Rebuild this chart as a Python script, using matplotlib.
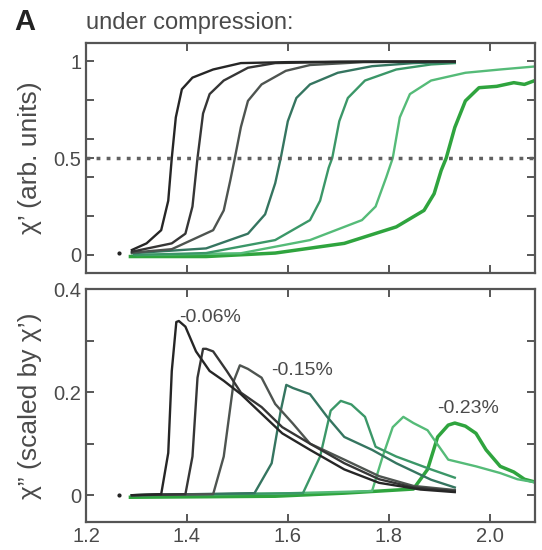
import numpy as np
import matplotlib
matplotlib.use("Agg")
import matplotlib.pyplot as plt
from matplotlib.ticker import MultipleLocator, FixedLocator

plt.rcParams['font.family'] = ['Liberation Sans', 'DejaVu Sans']

GRAY = '#4a4a4a'

# curve colours, darkest (smallest strain) to brightest green
colors = ['#262626', '#363636', '#4e5450', '#357560', '#3b9768', '#55bb78', '#2fa43e']
widths = [1.7, 1.7, 1.7, 1.7, 1.7, 1.7, 2.5]

# ---- top panel: chi' (arb. units) vs x ----
top_x = [
    [1.291, 1.320, 1.349, 1.363, 1.370, 1.378, 1.390, 1.411, 1.452, 1.507, 1.600, 1.750, 1.931],
    [1.291, 1.370, 1.397, 1.411, 1.421, 1.432, 1.445, 1.473, 1.521, 1.575, 1.700, 1.931],
    [1.291, 1.370, 1.452, 1.473, 1.486, 1.495, 1.507, 1.521, 1.548, 1.596, 1.644, 1.750, 1.931],
    [1.291, 1.438, 1.521, 1.555, 1.575, 1.586, 1.600, 1.617, 1.644, 1.699, 1.767, 1.849, 1.931],
    [1.295, 1.438, 1.575, 1.644, 1.664, 1.681, 1.688, 1.702, 1.719, 1.753, 1.815, 1.884, 1.931],
    [1.302, 1.507, 1.644, 1.747, 1.774, 1.795, 1.808, 1.822, 1.842, 1.884, 1.952, 2.021, 2.096],
    [1.288, 1.438, 1.575, 1.712, 1.815, 1.870, 1.890, 1.904, 1.914, 1.931, 1.952, 1.979, 2.014, 2.048, 2.069, 2.096],
]
top_y = [
    [0.026, 0.060, 0.128, 0.280, 0.500, 0.710, 0.855, 0.915, 0.957, 0.990, 0.995, 0.998, 0.998],
    [0.017, 0.060, 0.110, 0.250, 0.500, 0.730, 0.830, 0.900, 0.966, 0.990, 0.996, 0.998],
    [0.012, 0.030, 0.128, 0.230, 0.385, 0.500, 0.660, 0.795, 0.880, 0.950, 0.980, 0.995, 0.998],
    [0.009, 0.034, 0.110, 0.210, 0.370, 0.500, 0.690, 0.810, 0.880, 0.940, 0.974, 0.990, 0.995],
    [0.000, 0.010, 0.077, 0.180, 0.280, 0.450, 0.500, 0.690, 0.810, 0.900, 0.957, 0.983, 0.990],
    [0.000, 0.009, 0.077, 0.180, 0.250, 0.400, 0.500, 0.710, 0.830, 0.900, 0.940, 0.957, 0.974],
    [-0.008, -0.008, 0.010, 0.060, 0.145, 0.230, 0.316, 0.436, 0.500, 0.658, 0.795, 0.863, 0.870, 0.889, 0.880, 0.906],
]

# ---- bottom panel: chi'' scaled by chi' ----
bot_x = [
    [1.291, 1.349, 1.363, 1.370, 1.379, 1.384, 1.397, 1.418, 1.445, 1.473, 1.507, 1.548, 1.589, 1.644, 1.712, 1.781, 1.863, 1.931],
    [1.291, 1.397, 1.411, 1.421, 1.432, 1.438, 1.452, 1.479, 1.507, 1.548, 1.589, 1.644, 1.712, 1.781, 1.849, 1.931],
    [1.291, 1.452, 1.473, 1.493, 1.505, 1.521, 1.548, 1.575, 1.610, 1.644, 1.712, 1.781, 1.849, 1.931],
    [1.291, 1.534, 1.568, 1.586, 1.597, 1.610, 1.644, 1.678, 1.712, 1.767, 1.815, 1.884, 1.931],
    [1.291, 1.630, 1.664, 1.685, 1.705, 1.726, 1.753, 1.774, 1.815, 1.884, 1.931],
    [1.291, 1.567, 1.767, 1.788, 1.808, 1.829, 1.849, 1.877, 1.918, 1.973, 2.021, 2.055, 2.096],
    [1.288, 1.438, 1.575, 1.712, 1.849, 1.877, 1.897, 1.918, 1.931, 1.952, 1.973, 1.993, 2.021, 2.048, 2.069, 2.096],
]
bot_y = [
    [0.000, 0.002, 0.082, 0.241, 0.336, 0.338, 0.327, 0.279, 0.241, 0.222, 0.196, 0.158, 0.120, 0.088, 0.050, 0.024, 0.011, 0.006],
    [0.000, 0.002, 0.075, 0.228, 0.284, 0.284, 0.279, 0.241, 0.199, 0.171, 0.132, 0.100, 0.062, 0.031, 0.015, 0.008],
    [0.000, 0.002, 0.075, 0.222, 0.252, 0.245, 0.228, 0.177, 0.139, 0.100, 0.069, 0.037, 0.018, 0.010],
    [0.000, 0.004, 0.062, 0.164, 0.214, 0.208, 0.196, 0.152, 0.113, 0.088, 0.062, 0.030, 0.015],
    [0.000, 0.004, 0.075, 0.164, 0.183, 0.176, 0.152, 0.094, 0.075, 0.050, 0.034],
    [0.000, 0.003, 0.008, 0.075, 0.132, 0.152, 0.140, 0.126, 0.069, 0.056, 0.043, 0.031, 0.024],
    [-0.004, -0.003, -0.002, 0.004, 0.012, 0.050, 0.113, 0.136, 0.140, 0.134, 0.120, 0.088, 0.056, 0.045, 0.031, 0.024],
]

strain_labels = ['-0.06%', '-0.15%', '-0.23%']
label_pos = [(1.385, 0.345), (1.567, 0.241), (1.895, 0.168)]

fig = plt.figure(figsize=(5.42, 5.50), dpi=100)
ax1 = fig.add_axes([0.1587, 0.5036, 0.8284, 0.418])
ax2 = fig.add_axes([0.1587, 0.0509, 0.8284, 0.4236])

for i in reversed(range(7)):
    ax1.plot(top_x[i], top_y[i], color=colors[i], lw=widths[i])
    ax2.plot(bot_x[i], bot_y[i], color=colors[i], lw=widths[i])

ax1.axhline(0.5, color='#606060', lw=2.5, ls=(0, (1.1, 1.8)))
ax1.plot([1.265], [0.01], marker='o', ms=2, color='#222222')
ax2.plot([1.265], [0.0], marker='o', ms=2, color='#222222')

for t, (x, y) in zip(strain_labels, label_pos):
    ax2.text(x, y, t, fontsize=14, color=GRAY, va='center', ha='left')

ax1.set_xlim(1.2, 2.09)
ax2.set_xlim(1.2, 2.09)
ax1.set_ylim(-0.093, 1.093)
ax2.set_ylim(-0.052, 0.4)

for ax in (ax1, ax2):
    ax.xaxis.set_major_locator(FixedLocator([1.2, 1.4, 1.6, 1.8, 2.0]))
    ax.tick_params(direction='in', length=6, width=1.3, colors=GRAY, labelsize=14.5,
                   top=True, right=True, which='both')
    ax.tick_params(which='minor', length=6)
    for s in ax.spines.values():
        s.set_color('#555555')
        s.set_linewidth(1.6)

ax1.set_xticklabels([])
ax1.yaxis.set_major_locator(FixedLocator([0, 0.5, 1]))
ax1.set_yticklabels(['0', '0.5', '1'])
ax1.yaxis.set_minor_locator(FixedLocator([0.2, 0.4, 0.6, 0.8]))
ax2.set_xticklabels(['1.2', '1.4', '1.6', '1.8', '2.0'])
ax2.yaxis.set_major_locator(FixedLocator([0, 0.2, 0.4]))
ax2.set_yticklabels(['0', '0.2', '0.4'])
ax2.yaxis.set_minor_locator(MultipleLocator(0.1))

ax1.set_ylabel('χ’ (arb. units)', fontsize=19, color=GRAY)
ax2.set_ylabel('χ” (scaled by χ’)', fontsize=19, color=GRAY)
ax1.yaxis.set_label_coords(-0.098, 0.5)
ax2.yaxis.set_label_coords(-0.098, 0.5)

fig.text(0.027, 0.945, 'A', fontsize=21, fontweight='bold', color='#222222')
fig.text(0.1587, 0.948, 'under compression:', fontsize=17, color=GRAY)

fig.savefig('out.png', dpi=100)
